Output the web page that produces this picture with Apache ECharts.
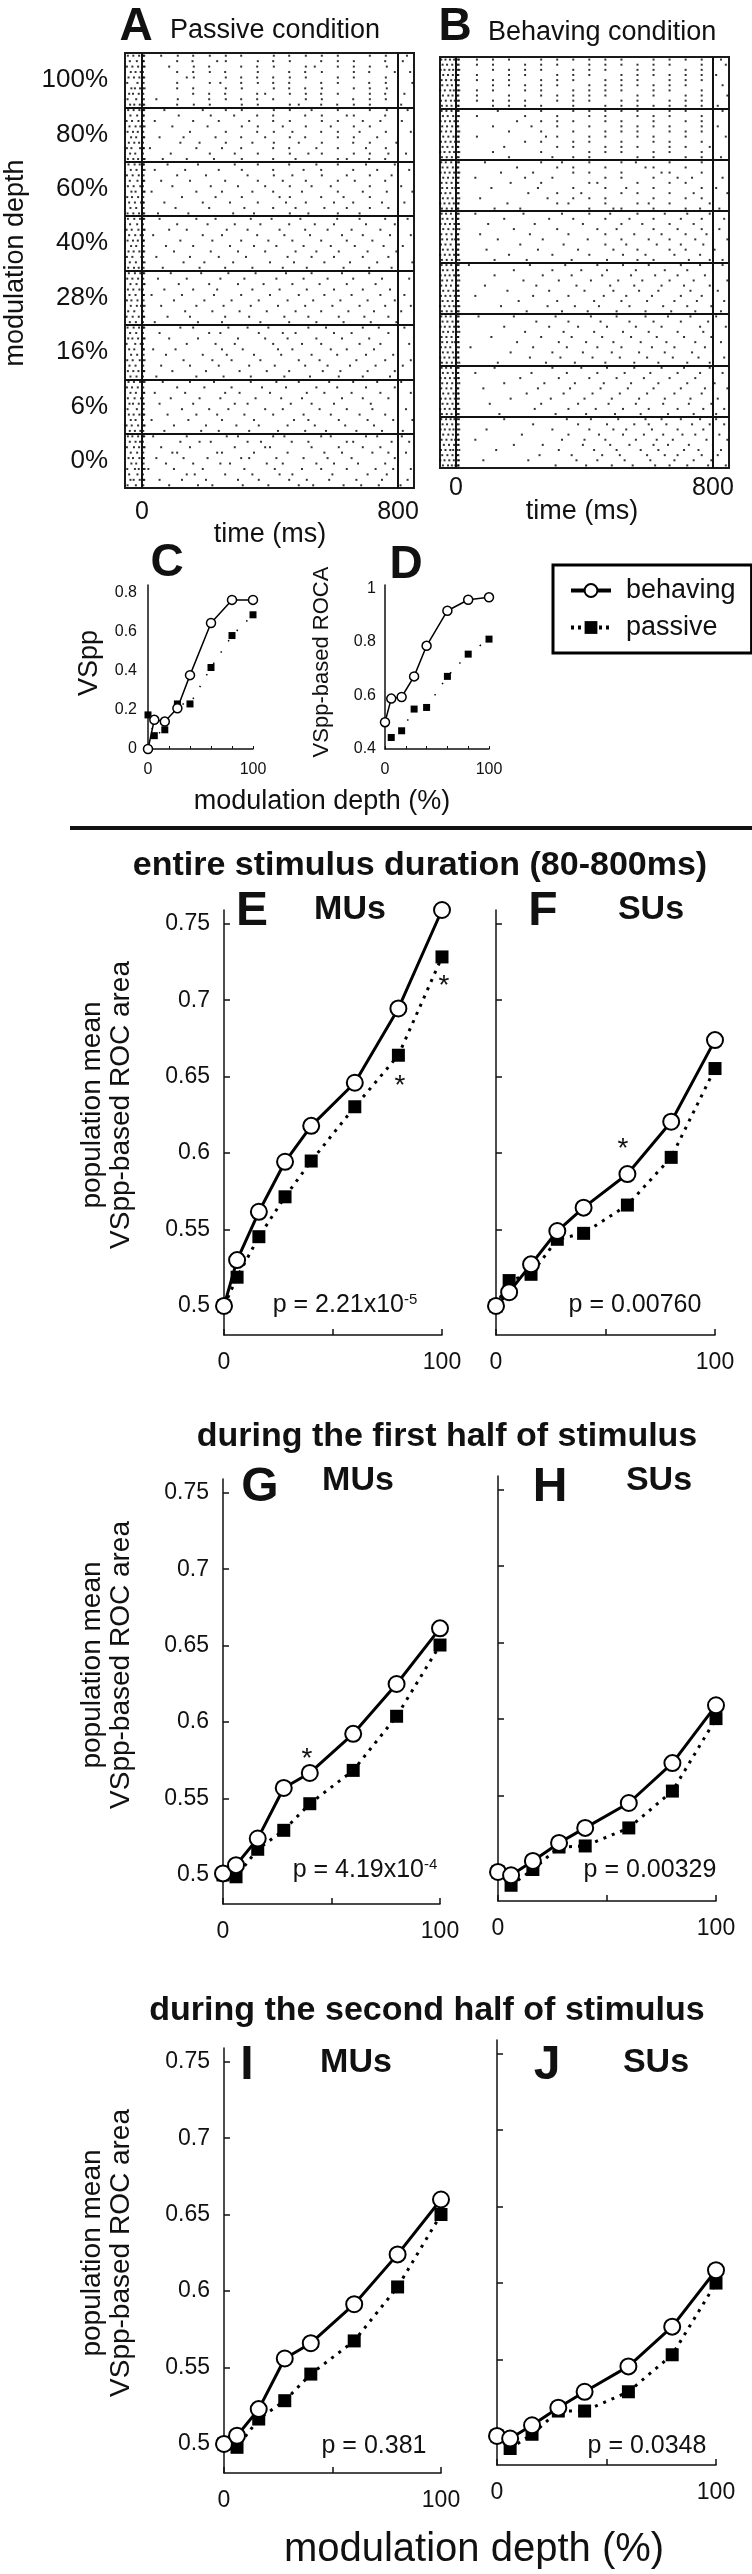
<!DOCTYPE html>
<html>
<head>
<meta charset="utf-8">
<script src="https://cdn.jsdelivr.net/npm/echarts@6.0.0/dist/echarts.min.js"></script>
<style>
  html, body { margin: 0; padding: 0; background: #fff; }
  #chart { width: 752px; height: 2574px; }
</style>
</head>
<body>
<div id="chart"></div>
<script>
const FONT = 'Arial, "Liberation Sans", Helvetica, sans-serif';

// modulation depths (%)
const depth = [0, 6, 16, 28, 40, 60, 80, 100];
const depthLabels = ['0%', '6%', '16%', '28%', '40%', '60%', '80%', '100%'];
const trialsPerBlock = 10;

// C: VSpp of example unit
const vsppBehaving = [0, 0.149, 0.14, 0.208, 0.377, 0.643, 0.761, 0.761];
const vsppPassive = [0.174, 0.068, 0.098, 0.23, 0.23, 0.416, 0.579, 0.685];
// D: VSpp-based ROCA of example unit
const rocaBehaving = [0.5, 0.588, 0.594, 0.671, 0.785, 0.916, 0.957, 0.966];
const rocaPassive = [0.5, 0.443, 0.468, 0.549, 0.555, 0.671, 0.754, 0.81];
// E, F: entire stimulus duration
const muEntireBehaving = [0.5, 0.53, 0.5616, 0.5943, 0.6178, 0.646, 0.6946, 0.759];
const muEntirePassive = [0.5, 0.5188, 0.5453, 0.5714, 0.5948, 0.6303, 0.664, 0.7283];
const suEntireBehaving = [0.5, 0.509, 0.5272, 0.549, 0.5643, 0.5863, 0.6205, 0.6739];
const suEntirePassive = [0.5, 0.5166, 0.5207, 0.5436, 0.5475, 0.566, 0.5972, 0.6553];
// G, H: first half
const muFirstBehaving = [0.501, 0.5064, 0.5238, 0.5569, 0.5667, 0.5923, 0.6249, 0.6613];
const muFirstPassive = [0.5, 0.4988, 0.5168, 0.5292, 0.5466, 0.5684, 0.6038, 0.6504];
const suFirstBehaving = [0.5, 0.4978, 0.5072, 0.519, 0.5288, 0.5451, 0.5712, 0.609];
const suFirstPassive = [0.5, 0.4913, 0.5016, 0.5163, 0.517, 0.5288, 0.5529, 0.6003];
// I, J: second half
const muSecondBehaving = [0.5, 0.5054, 0.5228, 0.5559, 0.5659, 0.5914, 0.624, 0.6599];
const muSecondPassive = [0.5, 0.4978, 0.5163, 0.5283, 0.5457, 0.5674, 0.6027, 0.6501];
const suSecondBehaving = [0.5, 0.4983, 0.507, 0.5185, 0.5289, 0.5455, 0.5715, 0.6084];
const suSecondPassive = [0.5, 0.4918, 0.5011, 0.5163, 0.5163, 0.5289, 0.5531, 0.6];

const rocTicks = [0.5, 0.55, 0.6, 0.65, 0.7, 0.75];

// spike times (ms), one string per trial, top trial first
const passive100 = [
  '-44 -27 -9 4 7 60 112 160 212 262 310 412 460 512 562 612 712 762 828',
  '-38 -16 3 6 110 158 235 262 362 410 462 560 612 662 760 815',
  '-47 -30 -12 5 8 85 162 210 310 360 412 512 540 612 662 712 765',
  '-35 -20 -4 3 110 160 212 260 362 460 510 562 662 710 790 838',
  '-42 -25 -8 4 7 140 162 262 310 360 410 462 512 612 662 762',
  '-46 -14 5 110 212 245 310 362 410 460 560 612 710 762 845',
  '-33 -22 -6 3 8 110 160 262 312 412 460 510 562 662 712 765',
  '-40 -28 -10 4 160 210 260 360 385 462 512 560 612 712 760 820',
  '-45 -18 6 45 112 210 262 310 360 410 512 562 660 712 762',
  '-37 -24 -7 3 7 110 162 212 312 362 462 490 560 610 662 712 810'
];
const passive80 = [
  '-43 -26 -8 4 7 70 190 262 312 412 462 530 612 712 765 830',
  '-36 -15 3 6 115 215 288 360 410 510 562 640 662 760',
  '-48 -31 -11 5 40 160 240 335 410 462 562 612 690 745 812',
  '-39 -20 -5 3 8 95 205 312 362 440 512 590 662 712',
  '-45 -28 -13 4 150 262 360 412 470 560 612 680 762 840',
  '-34 -18 5 7 55 130 230 310 385 462 510 612 662 735',
  '-41 -24 -9 3 120 180 262 345 412 490 562 660 712 795',
  '-47 -33 -6 4 6 25 170 250 310 410 460 545 612 700 762',
  '-37 -21 3 90 212 290 362 462 520 562 662 712 770 825',
  '-44 -27 -12 5 8 65 140 225 312 410 480 612 640 710 760'
];
const passive60 = [
  '-42 -23 -7 4 6 80 175 290 362 460 545 612 700 790',
  '-35 -17 3 8 40 135 240 312 410 505 560 660 735 835',
  '-47 -29 -10 5 110 200 330 412 470 562 640 712 780',
  '-38 -14 4 7 60 150 260 362 440 512 612 665 760',
  '-44 -26 -5 3 95 215 300 385 462 530 590 712 810',
  '-33 -20 5 8 30 170 250 345 410 500 612 690 765 845',
  '-46 -31 -12 4 125 230 312 430 462 560 630 712',
  '-40 -22 -3 3 6 70 190 275 362 450 512 600 660 750 820',
  '-36 -18 5 105 210 320 410 480 570 640 712 770',
  '-45 -27 -9 4 7 50 145 285 350 462 520 612 680 800'
];
const passive40 = [
  '-44 -24 -6 4 7 55 170 230 340 405 495 610 680 760 830',
  '-37 -15 3 110 205 290 370 460 540 600 700 790',
  '-48 -32 -11 5 8 85 140 265 330 430 510 580 655 745',
  '-40 -21 -4 3 35 190 250 360 445 525 625 690 775 840',
  '-45 -28 -13 4 6 120 220 310 395 470 560 640 720',
  '-34 -18 5 75 160 275 350 420 505 590 665 755 815',
  '-42 -26 -8 3 7 100 215 300 385 480 545 615 705 795',
  '-47 -30 -2 4 45 150 240 325 455 530 600 690 770',
  '-38 -19 3 8 130 195 285 400 475 570 650 735 845',
  '-43 -25 -10 5 65 180 260 345 440 515 630 710 780'
];
const passive28 = [
  '-41 -22 -5 3 7 90 185 270 355 450 530 625 710 800',
  '-46 -30 -12 4 50 140 245 320 420 505 580 660 750 835',
  '-36 -17 5 8 115 210 300 380 470 555 640 730',
  '-44 -27 -8 3 70 160 235 345 430 515 600 690 775',
  '-39 -20 4 6 30 125 225 310 400 490 570 655 745 820',
  '-47 -33 -14 5 100 195 280 365 455 535 620 705 790',
  '-35 -16 -3 3 8 60 170 255 340 425 510 595 680 760 840',
  '-43 -24 4 135 220 305 390 480 560 645 725 810',
  '-48 -29 -10 5 7 80 150 260 335 445 520 615 695 770',
  '-38 -19 3 40 175 250 370 460 545 630 715 795'
];
const passive16 = [
  '-45 -26 -9 4 7 120 160 270 330 395 520 575 690 740 820',
  '-37 -18 3 55 210 245 365 440 480 600 655 770',
  '-43 -30 -12 5 8 85 175 300 385 455 545 625 710 800',
  '-48 -21 -4 3 140 230 290 410 500 560 680 745 835',
  '-40 -24 4 6 35 105 250 315 425 470 590 640 725',
  '-34 -15 5 75 190 265 350 435 530 610 700 785',
  '-46 -29 -7 3 8 130 220 280 370 490 555 670 760 840',
  '-39 -20 4 60 150 240 335 415 510 580 650 730 815',
  '-44 -27 -11 5 7 95 200 305 390 460 565 620 705 790',
  '-36 -17 3 45 170 255 340 445 525 615 690 775'
];
const passive6 = [
  '-42 -25 -6 3 8 65 150 225 340 420 490 585 660 735 810',
  '-47 -31 -13 4 110 195 280 375 450 545 610 700 790',
  '-36 -19 5 7 40 135 260 305 400 515 570 655 745 840',
  '-44 -23 -3 4 90 180 245 355 435 500 625 690 770',
  '-39 -28 -10 3 6 55 160 290 330 465 530 600 715 800',
  '-45 -16 5 125 210 270 385 440 555 640 720 825',
  '-41 -26 -8 4 7 80 170 235 320 410 505 590 680 760',
  '-35 -20 3 30 145 250 350 475 520 615 705 785 845',
  '-48 -32 -12 5 8 100 200 295 365 455 540 635 725',
  '-38 -22 -5 4 70 185 240 335 425 510 575 670 750 815'
];
const passive0 = [
  '-44 -30 -12 4 7 35 140 265 300 410 445 560 590 700 735 812',
  '-38 -20 -6 3 120 180 215 330 372 468 520 640 660 780 835',
  '-47 -25 -9 5 8 60 150 290 385 400 530 615 690 745',
  '-35 -15 4 95 110 235 250 350 455 570 625 720 770 825',
  '-42 -28 -8 3 6 45 130 205 310 335 420 505 580 655 790',
  '-33 -18 5 75 160 245 275 390 440 545 600 675 760',
  '-46 -22 -10 4 8 20 100 190 320 415 500 560 640 730 785 840',
  '-40 -14 3 140 165 260 345 430 470 595 705 765',
  '-36 -26 -7 5 7 55 125 200 300 365 460 515 585 670 750 830',
  '-45 -19 4 85 175 220 315 395 490 535 630 685 740 808'
];

const behaving100 = [
  '-46 -33 -19 -6 5 9 65 115 165 265 315 365 415 465 515 615 665 715 765 825',
  '-42 -28 -12 4 8 65 115 215 265 315 415 465 515 565 615 665 765 840',
  '-48 -36 -21 -9 6 10 115 165 215 265 365 415 465 565 615 715 765',
  '-40 -25 -10 5 7 65 165 215 315 365 415 515 565 615 665 715 765 810',
  '-45 -31 -15 -3 4 9 65 115 165 265 315 365 465 515 565 665 715 765',
  '-43 -27 -13 5 8 115 165 215 265 315 415 465 515 565 615 665 715 830',
  '-49 -35 -18 -7 6 10 65 115 215 265 365 415 465 515 615 665 765',
  '-41 -24 -11 4 7 65 165 265 315 365 415 465 565 615 715 765 845',
  '-47 -32 -16 -4 5 9 65 115 165 215 315 365 415 515 565 665 715 765',
  '-44 -29 -14 6 8 115 165 215 265 365 465 515 565 615 665 715 765 815'
];
const behaving80 = [
  '-45 -30 -14 4 8 130 265 365 415 465 515 565 665 715 830',
  '-41 -26 -9 5 9 65 215 315 415 465 565 615 665 765',
  '-48 -34 -19 -5 6 190 265 315 365 465 515 615 715 765',
  '-43 -28 -12 4 7 115 235 315 415 515 565 615 665 765 815',
  '-46 -31 -16 5 10 165 265 365 465 515 565 665 715 765',
  '-40 -24 -8 6 8 65 280 315 415 465 565 615 715 840',
  '-47 -33 -17 -3 4 9 215 265 365 415 515 615 665 765',
  '-42 -27 -11 5 7 150 315 365 465 515 565 665 715 790',
  '-49 -36 -20 -6 6 10 115 265 415 465 515 615 665 765',
  '-44 -29 -13 4 8 165 300 365 415 565 615 715 765 825'
];
const behaving60 = [
  '-46 -32 -15 5 9 90 265 330 415 515 560 665 765',
  '-42 -27 -10 4 7 190 315 365 465 590 615 715 800',
  '-48 -35 -20 -6 6 10 140 240 365 415 515 640 665 765',
  '-40 -25 -9 5 8 60 215 300 465 515 615 690 735 830',
  '-45 -30 -14 4 7 170 265 415 440 565 665 715',
  '-43 -28 -12 -2 6 9 110 255 365 465 530 615 765 810',
  '-47 -33 -18 5 8 225 315 390 515 565 665 740 845',
  '-41 -26 -11 4 10 75 285 365 415 465 615 715 765',
  '-49 -36 -21 -7 6 8 160 315 350 465 565 600 665 790',
  '-44 -29 -13 5 7 120 200 415 490 515 615 715 760 820'
];
const behaving40 = [
  '-45 -31 -16 4 8 60 210 330 415 480 565 650 720 790',
  '-42 -27 -11 5 7 150 290 365 465 540 615 700 765 835',
  '-48 -34 -19 -5 6 9 100 245 395 515 580 665 740',
  '-40 -24 -8 4 10 180 315 440 500 615 690 765 820',
  '-46 -30 -14 5 7 75 230 350 465 555 640 715 780',
  '-43 -28 -12 -3 6 8 130 270 410 515 600 665 745 845',
  '-47 -33 -17 4 9 200 335 465 530 625 700 770',
  '-41 -26 -10 5 7 95 255 380 490 565 665 715 805',
  '-49 -35 -20 -6 6 8 165 300 415 520 590 680 760',
  '-44 -29 -13 4 10 120 220 360 470 565 615 725 790 830'
];
const behaving28 = [
  '-45 -30 -15 4 8 40 230 340 440 520 600 700 760 830',
  '-41 -27 -10 5 7 180 300 390 470 560 650 720 800',
  '-48 -34 -20 -6 6 9 120 270 360 455 545 620 690 775',
  '-43 -28 -12 4 10 210 320 420 505 580 665 740 845',
  '-46 -31 -16 5 7 90 250 375 480 555 640 710 790',
  '-40 -24 -8 6 8 160 290 400 490 570 630 730 815',
  '-47 -33 -18 -4 4 9 60 240 350 460 530 610 700 765',
  '-42 -26 -11 5 7 195 315 430 515 595 680 750 835',
  '-49 -36 -21 -7 6 10 140 285 370 445 540 645 720 795',
  '-44 -29 -14 4 8 220 330 410 500 590 670 745 825'
];
const behaving16 = [
  '-46 -32 -17 4 8 70 180 310 420 500 590 660 730 810',
  '-42 -27 -11 5 7 250 350 450 540 615 700 785',
  '-48 -35 -20 -6 6 9 150 290 380 470 560 640 760 840',
  '-40 -25 -9 4 10 215 335 430 520 600 690 770',
  '-45 -30 -14 5 7 110 265 360 455 545 625 710 795',
  '-43 -28 -12 -3 6 8 190 320 405 490 575 655 745 825',
  '-47 -33 -18 4 9 45 240 345 440 515 610 680 775',
  '-41 -26 -10 5 7 170 300 395 485 570 650 735 800',
  '-49 -36 -21 -7 6 8 230 325 425 510 595 675 755 835',
  '-44 -29 -13 4 10 130 280 370 465 555 630 720 790'
];
const behaving6 = [
  '-45 -31 -16 4 8 120 300 390 470 555 640 710 790',
  '-41 -26 -10 5 7 60 235 345 440 525 605 690 760 830',
  '-48 -34 -19 -5 6 9 200 320 415 500 585 665 745',
  '-43 -28 -12 4 10 150 275 370 460 545 630 720 805',
  '-46 -30 -15 5 7 85 255 355 450 535 615 700 775 845',
  '-40 -24 -8 6 8 220 335 425 510 595 680 765',
  '-47 -33 -18 -4 4 9 170 295 400 485 570 650 730 815',
  '-42 -27 -11 5 7 105 265 380 475 560 645 725 795',
  '-49 -35 -20 -6 6 10 245 350 435 520 600 690 770 835',
  '-44 -29 -14 4 8 135 310 405 495 575 660 740 810'
];
const behaving0 = [
  '-46 -31 -17 -5 4 9 150 345 420 505 590 640 700 760 810',
  '-42 -28 -12 3 8 240 380 470 555 600 655 735 790 835',
  '-48 -35 -20 -8 5 10 95 300 415 490 530 610 690 770',
  '-40 -24 -10 4 7 205 350 445 520 585 645 705 745 820',
  '-45 -30 -14 -3 6 9 60 330 400 465 560 625 675 780 845',
  '-38 -22 -6 5 8 180 270 395 480 540 615 660 725 800',
  '-47 -33 -18 -9 3 10 125 320 430 500 575 630 710 755 825',
  '-43 -27 -11 4 7 260 360 455 510 595 650 690 765 815',
  '-49 -36 -21 -7 5 9 85 225 375 440 525 605 680 740 795',
  '-41 -25 -13 -2 6 8 310 405 485 550 620 665 720 785 840'
];

const passiveBlocks = [passive0, passive6, passive16, passive28, passive40, passive60, passive80, passive100];
const behavingBlocks = [behaving0, behaving6, behaving16, behaving28, behaving40, behaving60, behaving80, behaving100];

function rasterPoints(blocks) {
  const pts = [];
  blocks.forEach((block, b) => {
    block.forEach((trial, t) => {
      trial.split(' ').forEach(s => {
        pts.push([+s, b * trialsPerBlock + (trialsPerBlock - t) - 0.5]);
      });
    });
  });
  return pts;
}

const blockEdges = [1, 2, 3, 4, 5, 6, 7].map(k => k * trialsPerBlock);
const blockCenters = depth.map((d, i) => i * trialsPerBlock + trialsPerBlock / 2);

const chart = echarts.init(document.getElementById('chart'), null, { renderer: 'canvas' });

const axisColor = '#111';

function rasterX(gi, min, margin) {
  return {
    gridIndex: gi, type: 'value', min: min, max: 850,
    axisLine: { show: false }, axisTick: { show: false }, splitLine: { show: false },
    axisLabel: { customValues: [0, 800], fontSize: 25, fontFamily: FONT, color: axisColor, margin: margin }
  };
}
function rasterY(gi, showLabel) {
  return {
    gridIndex: gi, type: 'value', min: 0, max: 8 * trialsPerBlock,
    axisLine: { show: false }, axisTick: { show: false }, splitLine: { show: false },
    axisLabel: {
      show: showLabel, customValues: blockCenters, fontSize: 26, fontFamily: FONT, color: axisColor, margin: 17,
      formatter: v => depthLabels[Math.round((v - trialsPerBlock / 2) / trialsPerBlock)]
    }
  };
}
function smallX(gi) {
  return {
    gridIndex: gi, type: 'value', min: 0, max: 100,
    axisLine: { show: true, onZero: false, lineStyle: { color: axisColor, width: 1.5 } },
    axisTick: { show: true, inside: true, length: 3, customValues: [0, 20, 40, 60, 80, 100], lineStyle: { color: axisColor } },
    axisLabel: { customValues: [0, 100], fontSize: 16, fontFamily: FONT, color: axisColor, margin: 13 },
    splitLine: { show: false }
  };
}
function rocX(gi) {
  return {
    gridIndex: gi, type: 'value', min: 0, max: 100,
    axisLine: { show: true, onZero: false, lineStyle: { color: axisColor, width: 1.5 } },
    axisTick: { show: true, inside: true, length: 6, customValues: [0, 50, 100], lineStyle: { color: axisColor, width: 1.5 } },
    axisLabel: { customValues: [0, 100], fontSize: 23, fontFamily: FONT, color: axisColor, margin: 16 },
    splitLine: { show: false }
  };
}
function rocY(gi, showLabel) {
  return {
    gridIndex: gi, type: 'value', min: 0.481, max: 0.759,
    axisLine: { show: true, onZero: false, lineStyle: { color: axisColor, width: 1.5 } },
    axisTick: { show: true, inside: true, length: 6, customValues: rocTicks, lineStyle: { color: axisColor, width: 1.5 } },
    axisLabel: { show: showLabel, customValues: rocTicks, fontSize: 23, fontFamily: FONT, color: axisColor, margin: 14, formatter: v => String(v) },
    splitLine: { show: false }
  };
}

function rasterSeries(gi, blocks) {
  return {
    type: 'scatter', xAxisIndex: gi, yAxisIndex: gi, silent: true,
    symbol: 'rect', symbolSize: 2, itemStyle: { color: '#000' },
    data: rasterPoints(blocks),
    markLine: {
      silent: true, symbol: ['none', 'none'], label: { show: false },
      lineStyle: { color: '#111', width: 2, type: 'solid' },
      data: blockEdges.map(v => ({ yAxis: v })).concat([{ xAxis: 0 }, { xAxis: 800 }])
    }
  };
}

function pair(gi, beh, pas, big) {
  const pts = arr => depth.map((d, i) => [d, arr[i]]);
  return [
    {
      name: 'passive', type: 'line', xAxisIndex: gi, yAxisIndex: gi, clip: false, z: 3,
      data: pts(pas), symbol: 'rect', symbolSize: big ? 13 : 7,
      itemStyle: { color: '#000' },
      lineStyle: { color: '#000', width: big ? 3 : 1.5, type: big ? [3, 6] : [1.5, 12] }
    },
    {
      name: 'behaving', type: 'line', xAxisIndex: gi, yAxisIndex: gi, clip: false, z: 4,
      data: pts(beh), symbol: 'circle', symbolSize: big ? 16 : 9,
      itemStyle: { color: '#fff', borderColor: '#000', borderWidth: big ? 2 : 1.5 },
      lineStyle: { color: '#000', width: big ? 3 : 1.5, type: 'solid' }
    }
  ];
}

function txt(text, x, y, size, o) {
  o = o || {};
  return {
    type: 'text', x: x, y: y, rotation: o.rot || 0, silent: true, z: 10,
    style: {
      text: text, fontSize: size, fontFamily: FONT, fontWeight: o.bold ? 'bold' : 'normal',
      fill: '#111', align: o.align || 'center', verticalAlign: 'middle',
      textAlign: o.align || 'center', textVerticalAlign: 'middle',
      lineHeight: o.lh, rich: o.rich
    }
  };
}

const supRich = {
  sup: { fontSize: 15, fontFamily: FONT, fill: '#111', verticalAlign: 'top', lineHeight: 15 }
};
const yTitle = 'population mean\nVSpp-based ROC area';

const option = {
  animation: false,
  backgroundColor: '#fff',
  grid: [
    { left: 125, top: 53, width: 289, height: 435, show: true, borderColor: '#1a1a1a', borderWidth: 2 },
    { left: 440, top: 57, width: 289, height: 411, show: true, borderColor: '#1a1a1a', borderWidth: 2 },
    { left: 148, top: 585, width: 105, height: 164 },
    { left: 385, top: 585, width: 104, height: 164 },
    { left: 224, top: 910, width: 218, height: 425 },
    { left: 496, top: 910, width: 219, height: 425 },
    { left: 223, top: 1479, width: 217, height: 425 },
    { left: 498, top: 1476, width: 218, height: 425 },
    { left: 224, top: 2048, width: 217, height: 425 },
    { left: 497, top: 2040, width: 219, height: 425 }
  ],
  xAxis: [
    rasterX(0, -53, 12), rasterX(1, -50, 8),
    smallX(2), smallX(3),
    rocX(4), rocX(5), rocX(6), rocX(7), rocX(8), rocX(9)
  ],
  yAxis: [
    rasterY(0, true), rasterY(1, false),
    {
      gridIndex: 2, type: 'value', min: 0, max: 0.837,
      axisLine: { show: true, onZero: false, lineStyle: { color: axisColor, width: 1.5 } },
      axisTick: { show: false }, splitLine: { show: false },
      axisLabel: { customValues: [0, 0.2, 0.4, 0.6, 0.8], fontSize: 16, fontFamily: FONT, color: axisColor, margin: 11, formatter: v => String(v) }
    },
    {
      gridIndex: 3, type: 'value', min: 0.4, max: 1.012,
      axisLine: { show: true, onZero: false, lineStyle: { color: axisColor, width: 1.5 } },
      axisTick: { show: false }, splitLine: { show: false },
      axisLabel: { customValues: [0.4, 0.6, 0.8, 1], fontSize: 16, fontFamily: FONT, color: axisColor, margin: 9, formatter: v => String(v) }
    },
    rocY(4, true), rocY(5, false), rocY(6, true), rocY(7, false), rocY(8, true), rocY(9, false)
  ],
  legend: {
    left: 553, top: 565, orient: 'vertical', selectedMode: false,
    padding: [12, 16, 12, 16], itemGap: 10, itemWidth: 40, itemHeight: 16,
    borderColor: '#000', borderWidth: 3,
    textStyle: { fontSize: 27, fontFamily: FONT, color: '#111', padding: [0, 0, 0, 10] },
    data: [
      { name: 'behaving', lineStyle: { width: 4, type: 'solid', color: '#000' }, itemStyle: { color: '#fff', borderColor: '#000', borderWidth: 2 } },
      { name: 'passive', lineStyle: { width: 4, type: [3, 4], color: '#000' }, itemStyle: { color: '#000' } }
    ]
  },
  series: [
    rasterSeries(0, passiveBlocks),
    rasterSeries(1, behavingBlocks),
    ...pair(2, vsppBehaving, vsppPassive, false),
    ...pair(3, rocaBehaving, rocaPassive, false),
    ...pair(4, muEntireBehaving, muEntirePassive, true),
    ...pair(5, suEntireBehaving, suEntirePassive, true),
    ...pair(6, muFirstBehaving, muFirstPassive, true),
    ...pair(7, suFirstBehaving, suFirstPassive, true),
    ...pair(8, muSecondBehaving, muSecondPassive, true),
    ...pair(9, suSecondBehaving, suSecondPassive, true)
  ],
  graphic: [
    // raster titles
    txt('A', 136, 27, 46, { bold: true }),
    txt('Passive condition', 170, 31, 27, { align: 'left' }),
    txt('B', 455, 27, 46, { bold: true }),
    txt('Behaving condition', 488, 33, 27, { align: 'left' }),
    txt('modulation depth', 16, 263, 27, { rot: Math.PI / 2 }),
    txt('time (ms)', 270, 535, 27),
    txt('time (ms)', 582, 512, 27),
    // C, D
    txt('C', 167, 563, 46, { bold: true }),
    txt('D', 406, 565, 46, { bold: true }),
    txt('VSpp', 90, 663, 27, { rot: Math.PI / 2 }),
    txt('VSpp-based ROCA', 322, 662, 22, { rot: Math.PI / 2 }),
    txt('modulation depth (%)', 322, 802, 27),
    { type: 'line', silent: true, shape: { x1: 70, y1: 828, x2: 752, y2: 828 }, style: { stroke: '#111', lineWidth: 4 } },
    // section titles
    txt('entire stimulus duration (80-800ms)', 420, 866, 34, { bold: true }),
    txt('during the first half of stimulus', 447, 1437, 34, { bold: true }),
    txt('during the second half of stimulus', 427, 2011, 34, { bold: true }),
    // panel letters
    txt('E', 252, 912, 48, { bold: true }), txt('MUs', 350, 910, 34, { bold: true }),
    txt('F', 543, 912, 48, { bold: true }), txt('SUs', 651, 910, 34, { bold: true }),
    txt('G', 260, 1488, 48, { bold: true }), txt('MUs', 358, 1481, 34, { bold: true }),
    txt('H', 550, 1488, 48, { bold: true }), txt('SUs', 659, 1481, 34, { bold: true }),
    txt('I', 247, 2066, 48, { bold: true }), txt('MUs', 356, 2063, 34, { bold: true }),
    txt('J', 547, 2066, 48, { bold: true }), txt('SUs', 656, 2063, 34, { bold: true }),
    // y titles
    txt(yTitle, 107, 1105, 28, { rot: Math.PI / 2, lh: 29 }),
    txt(yTitle, 107, 1665, 28, { rot: Math.PI / 2, lh: 29 }),
    txt(yTitle, 107, 2253, 28, { rot: Math.PI / 2, lh: 29 }),
    // p values
    txt('p = 2.21x10{sup|-5}', 345, 1305, 25, { rich: supRich }),
    txt('p = 0.00760', 635, 1305, 25),
    txt('p = 4.19x10{sup|-4}', 365, 1870, 25, { rich: supRich }),
    txt('p = 0.00329', 650, 1870, 25),
    txt('p = 0.381', 374, 2446, 25),
    txt('p = 0.0348', 647, 2446, 25),
    // significance stars
    txt('*', 400, 1086, 28), txt('*', 444, 986, 28),
    txt('*', 623, 1149, 28), txt('*', 307, 1759, 28),
    txt('modulation depth (%)', 474, 2550, 40)
  ]
};

chart.setOption(option);
window.onresize = function () {
  chart.resize();
};
</script>
</body>
</html>
